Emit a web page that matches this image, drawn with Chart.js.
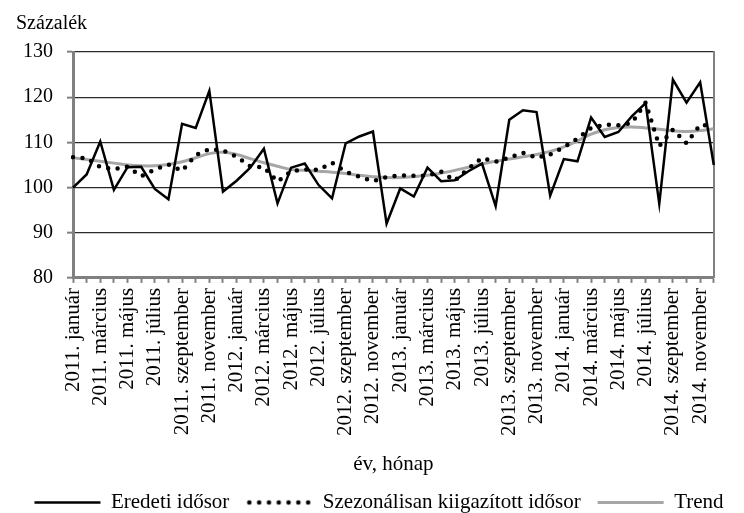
<!DOCTYPE html>
<html>
<head>
<meta charset="utf-8">
<script src="https://cdn.jsdelivr.net/npm/chart.js@4"></script>
<style>
  body { margin: 0; background: #fff; }
</style>
</head>
<body>
<canvas id="myChart" width="744" height="513"></canvas>
<script>
const years = ['2011', '2012', '2013', '2014']
const months = ['január', 'február', 'március', 'április', 'május', 'június',
    'július', 'augusztus', 'szeptember', 'október', 'november', 'december']
const labels = []
years.forEach(y => months.forEach(m => labels.push(y + '. ' + m)))

// Eredeti idősor
const eredeti = [100.0, 102.9, 110.2, 99.5, 104.5, 104.6, 99.7, 97.4, 114.1, 113.2, 121.4, 99.1,
    101.5, 104.4, 108.6, 96.5, 104.4, 105.3, 100.6, 97.6, 109.8, 111.3, 112.4, 92.0,
    99.8, 98.0, 104.4, 101.4, 101.6, 103.6, 105.3, 95.9, 115.0, 117.1, 116.7, 98.2,
    106.3, 105.8, 115.5, 111.2, 112.3, 115.8, 118.7, 96.4, 123.9, 118.8, 123.3, 105.0]

// Szezonálisan kiigazított idősor
const kiigazitott = [106.7, 106.5, 104.5, 104.1, 104.6, 102.5, 104.0, 105.1, 103.7, 107.2, 108.5, 108.2,
    106.8, 104.7, 104.5, 101.3, 103.6, 104.0, 103.9, 105.5, 103.5, 102.4, 101.4, 102.3,
    102.7, 102.6, 102.6, 103.5, 101.5, 104.2, 106.5, 105.7, 106.6, 107.7, 106.6, 107.3,
    108.9, 110.8, 113.2, 113.9, 113.8, 114.3, 118.8, 109.2, 112.8, 109.8, 113.9, 113.6]

// Trend
const trend = [106.6, 106.2, 105.8, 105.4, 105.0, 104.8, 104.8, 105.1, 105.7, 106.6, 107.5, 107.8,
    107.3, 106.4, 105.5, 104.7, 104.0, 103.8, 103.6, 103.4, 103.1, 102.7, 102.4, 102.2,
    102.2, 102.4, 102.7, 103.2, 103.8, 104.5, 105.2, 105.8, 106.3, 106.8, 107.3, 108.0,
    109.0, 110.3, 111.8, 112.8, 113.3, 113.4, 113.2, 112.9, 112.5, 112.4, 112.6, 113.0]

const yTicks = [80, 90, 100, 110, 120, 130]

Chart.defaults.font.family = "'Liberation Serif', 'Times New Roman', serif"
Chart.defaults.color = '#000'

// dotted legend symbol
const dots = document.createElement('canvas')
dots.width = 66
dots.height = 8
const dctx = dots.getContext('2d')
dctx.fillStyle = '#000'
for (let x = 3; x < 66; x += 9.8) {
    dctx.beginPath()
    dctx.arc(x, 4, 2.3, 0, Math.PI * 2)
    dctx.fill()
}

new Chart('myChart', {
    type: 'line',
    data: {
        labels: labels,
        datasets: [{
            label: 'Eredeti idősor',
            data: eredeti,
            borderColor: '#000',
            borderWidth: 2.5,
            pointRadius: 0,
            tension: 0,
            fill: false
        }, {
            label: 'Szezonálisan kiigazított idősor',
            data: kiigazitott,
            borderColor: '#000',
            borderWidth: 4.5,
            borderDash: [0, 9.5],
            borderCapStyle: 'round',
            pointRadius: 0,
            tension: 0,
            fill: false
        }, {
            label: 'Trend',
            data: trend,
            borderColor: '#a6a6a6',
            borderWidth: 3,
            pointRadius: 0,
            tension: 0.4,
            fill: false
        }]
    },
    options: {
        responsive: false,
        animation: false,
        devicePixelRatio: 1,
        layout: {padding: {left: 16, right: 2, top: 0, bottom: -10}},
        plugins: {
            title: {
                display: true,
                text: 'Százalék',
                align: 'start',
                font: {size: 20, weight: 'normal'},
                padding: {top: 12, bottom: 16}
            },
            legend: {
                position: 'bottom',
                labels: {
                    usePointStyle: true,
                    pointStyleWidth: 66,
                    padding: 17,
                    font: {size: 21},
                    generateLabels: chart => {
                        const items = Chart.defaults.plugins.legend.labels.generateLabels(chart)
                        items.forEach(it => {
                            it.pointStyle = it.datasetIndex === 1 ? dots : 'line'
                            it.lineDash = []
                        })
                        return items
                    }
                }
            },
            tooltip: {enabled: false}
        },
        scales: {
            x: {
                offset: false,
                grid: {
                    drawOnChartArea: false,
                    drawTicks: true,
                    tickLength: 5,
                    tickColor: '#808080',
                    tickWidth: 2
                },
                border: {color: '#808080', width: 3},
                ticks: {
                    autoSkip: false,
                    minRotation: 90,
                    maxRotation: 90,
                    padding: 5,
                    font: {size: 21},
                    callback: (v, i) => i % 2 === 0 ? labels[i] : ''
                },
                title: {
                    display: true,
                    text: 'év, hónap',
                    font: {size: 21, lineHeight: 1},
                    padding: {top: 13, bottom: 0}
                }
            },
            y: {
                min: yTicks[0],
                max: yTicks[yTicks.length - 1],
                afterBuildTicks: s => { s.ticks = yTicks.map(v => ({value: v})) },
                afterFit: s => { s.width = 57 },
                grid: {
                    color: c => c.tick && c.tick.value === 80 ? 'transparent' : '#2a2a2a',
                    lineWidth: 1.3,
                    tickColor: '#808080',
                    tickLength: 6,
                    tickWidth: 2
                },
                border: {color: '#808080', width: 3},
                ticks: {font: {size: 20}, padding: 14}
            },
            y2: {
                position: 'right',
                min: yTicks[0],
                max: yTicks[yTicks.length - 1],
                afterFit: s => { s.width = 15 },
                grid: {display: false},
                ticks: {display: false},
                border: {color: '#808080', width: 2}
            }
        }
    }
})
</script>
</body>
</html>
